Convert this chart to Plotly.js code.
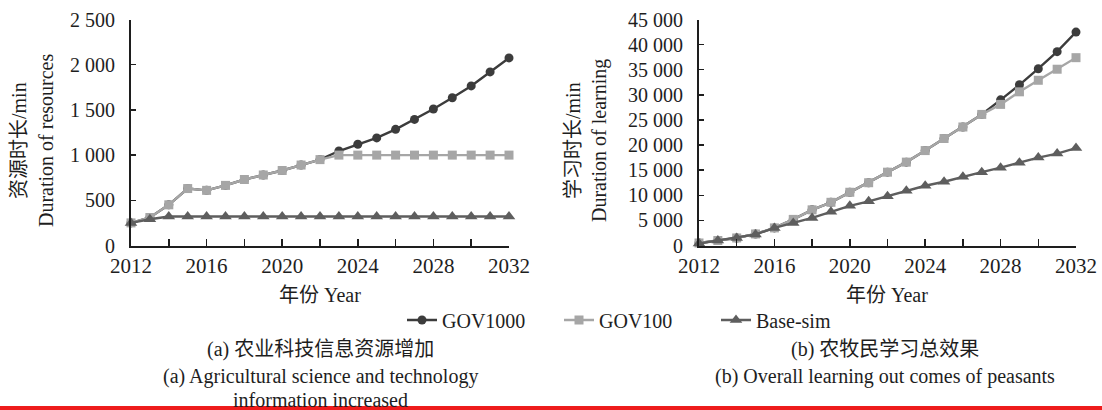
<!DOCTYPE html>
<html>
<head>
<meta charset="utf-8">
<script src="https://cdn.plot.ly/plotly-3.0.1.min.js"></script>
<style>
  html, body { margin: 0; padding: 0; background: #ffffff; }
  #chart { width: 1102px; height: 410px; }
</style>
</head>
<body>
<div id="chart"></div>
<script>
// Simulation years
const years = [2012, 2013, 2014, 2015, 2016, 2017, 2018, 2019, 2020, 2021, 2022,
               2023, 2024, 2025, 2026, 2027, 2028, 2029, 2030, 2031, 2032];

// (a) Duration of agricultural sci-tech information resources, min
const resGov1000 = [250, 310, 450, 630, 610, 665, 730, 780, 830, 890, 950,
                    1045, 1120, 1190, 1285, 1395, 1510, 1635, 1765, 1920, 2075];
const resGov100  = [250, 310, 450, 630, 610, 665, 730, 780, 830, 890, 950,
                    1000, 1000, 1000, 1000, 1000, 1000, 1000, 1000, 1000, 1000];
const resBase    = [250, 290, 320, 320, 320, 320, 320, 320, 320, 320, 320,
                    320, 320, 320, 320, 320, 320, 320, 320, 320, 320];

// (b) Overall learning duration of peasants, min
const learnGov1000 = [500, 1000, 1500, 2300, 3500, 5200, 7100, 8600, 10600, 12500, 14600,
                      16600, 18900, 21300, 23600, 26100, 29000, 32000, 35200, 38600, 42500];
const learnGov100  = [500, 1000, 1500, 2300, 3500, 5200, 7100, 8600, 10600, 12500, 14600,
                      16600, 18900, 21300, 23600, 26100, 28100, 30600, 32900, 35100, 37400];
const learnBase    = [400, 1000, 1500, 2200, 3500, 4500, 5500, 6700, 7900, 8800, 9800,
                      10900, 11900, 12700, 13700, 14600, 15500, 16500, 17500, 18300, 19400];

// Axis ticks and labels
const xTickVals = [2012, 2014, 2016, 2018, 2020, 2022, 2024, 2026, 2028, 2030, 2032];
const xTickText = ['2012', '', '2016', '', '2020', '', '2024', '', '2028', '', '2032'];
const resTickVals = [0, 500, 1000, 1500, 2000, 2500];
const resTickText = ['0', '500', '1 000', '1 500', '2 000', '2 500'];
const learnTickVals = [0, 5000, 10000, 15000, 20000, 25000, 30000, 35000, 40000, 45000];
const learnTickText = ['0', '5 000', '10 000', '15 000', '20 000', '25 000', '30 000', '35 000', '40 000', '45 000'];

const seriesNames = ['GOV1000', 'GOV100', 'Base-sim'];

const FONT = 'Liberation Serif, Times New Roman, Noto Sans CJK SC, serif';
const INK = '#1e1e1e';

const styles = [
  { color: '#3c3c3c', symbol: 'circle', size: 9 },
  { color: '#a6a6a6', symbol: 'square', size: 9 },
  { color: '#5e5e5e', symbol: 'triangle-up', size: 11 }
];

function makeTrace(name, y, style, xa, ya, showLegend) {
  return {
    type: 'scatter',
    mode: 'lines+markers',
    name: name,
    x: years,
    y: y,
    xaxis: xa,
    yaxis: ya,
    showlegend: showLegend,
    cliponaxis: false,
    line: { color: style.color, width: 2.4 },
    marker: { color: style.color, symbol: style.symbol, size: style.size }
  };
}

const leftSeries = [resGov1000, resGov100, resBase];
const rightSeries = [learnGov1000, learnGov100, learnBase];

const data = [];
leftSeries.forEach((s, i) => data.push(makeTrace(seriesNames[i], s, styles[i], 'x', 'y', true)));
rightSeries.forEach((s, i) => data.push(makeTrace(seriesNames[i], s, styles[i], 'x2', 'y2', false)));

function xAxis(domain, anchor) {
  return {
    domain: domain,
    anchor: anchor,
    range: [2012, 2032],
    showgrid: false,
    zeroline: false,
    showline: true,
    linecolor: INK,
    linewidth: 2,
    ticks: 'inside',
    ticklen: 7,
    tickwidth: 1.5,
    tickcolor: INK,
    tickmode: 'array',
    tickvals: xTickVals,
    ticktext: xTickText,
    ticklabelstandoff: 0,
    tickfont: { family: FONT, size: 21, color: INK },
    fixedrange: true
  };
}

function yAxis(domain, anchor, range, vals, text) {
  return {
    domain: domain,
    anchor: anchor,
    range: range,
    showgrid: false,
    zeroline: false,
    showline: true,
    linecolor: INK,
    linewidth: 2,
    ticks: 'inside',
    ticklen: 5,
    tickwidth: 1.5,
    tickcolor: INK,
    tickmode: 'array',
    tickvals: vals,
    ticktext: text,
    ticklabelstandoff: 10,
    tickfont: { family: FONT, size: 20, color: INK },
    fixedrange: true
  };
}

const W = 1102, H = 410;
const px = v => v / W;
const py = v => 1 - v / H;

const leftDom = [px(131), px(509)];
const rightDom = [px(699), px(1076)];
const yDom = [py(245.5), py(19.5)];

function note(text, x, y, opts) {
  return Object.assign({
    text: text,
    xref: 'paper', yref: 'paper',
    x: x, y: y,
    xanchor: 'center', yanchor: 'middle',
    showarrow: false,
    font: { family: FONT, size: 20, color: INK }
  }, opts || {});
}

const annotations = [
  note('年份 Year', px(320), py(295)),
  note('年份 Year', px(887), py(295)),
  note('资源时长/min', px(19), py(141), { textangle: -90 }),
  note('Duration of resources', px(46), py(141), { textangle: -90 }),
  note('学习时长/min', px(573), py(141), { textangle: -90 }),
  note('Duration of learning', px(599), py(141), { textangle: -90 }),
  note('(a) 农业科技信息资源增加', px(320), py(349)),
  note('(a) Agricultural science and technology', px(320), py(376)),
  note('information increased', px(320), py(400)),
  note('(b) 农牧民学习总效果', px(885), py(349)),
  note('(b) Overall learning out comes of peasants', px(885), py(376))
];

const layout = {
  width: W,
  height: H,
  margin: { l: 0, r: 0, t: 0, b: 0 },
  paper_bgcolor: '#ffffff',
  plot_bgcolor: '#ffffff',
  font: { family: FONT, size: 20, color: INK },
  showlegend: true,
  legend: {
    orientation: 'h',
    x: px(402),
    y: py(320),
    xanchor: 'left',
    yanchor: 'middle',
    entrywidth: 112,
    entrywidthmode: 'pixels',
    bgcolor: 'rgba(0,0,0,0)',
    font: { family: FONT, size: 20, color: INK }
  },
  xaxis: xAxis(leftDom, 'y'),
  yaxis: yAxis(yDom, 'x', [0, 2500], resTickVals, resTickText),
  xaxis2: xAxis(rightDom, 'y2'),
  yaxis2: yAxis(yDom, 'x2', [0, 45000], learnTickVals, learnTickText),
  annotations: annotations,
  shapes: [
    {
      type: 'rect', xref: 'paper', yref: 'paper', layer: 'above',
      x0: 0, x1: 1, y0: 0, y1: py(406),
      fillcolor: '#ee1c1c', line: { width: 0 }
    }
  ]
};

Plotly.newPlot('chart', data, layout, { displayModeBar: false, staticPlot: true });
</script>
</body>
</html>
